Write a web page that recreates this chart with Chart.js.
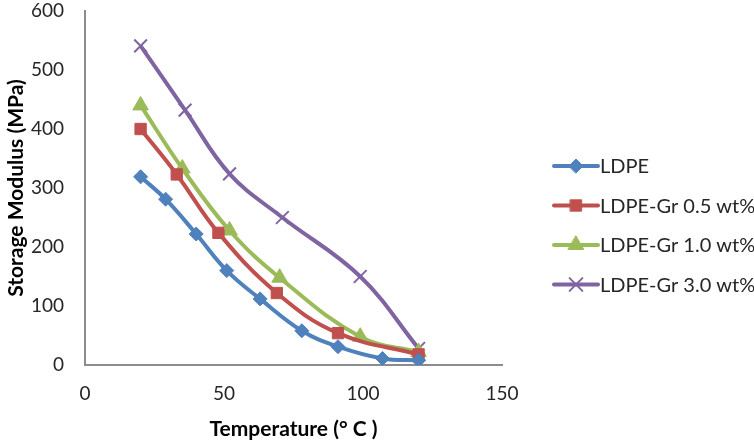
<!DOCTYPE html>
<html lang="en">
<head>
    <meta charset="UTF-8">
    <title>Storage Modulus</title>
    <style>
        html, body { margin: 0; padding: 0; background: #fff; }
        #wrap { width: 754px; height: 440px; }
    </style>
</head>
<body>
    <div id="wrap"><canvas id="modulusCanvas" width="754" height="440"></canvas></div>

    <script src="https://cdn.jsdelivr.net/npm/chart.js"></script>
    <script>
        // data (temperature in deg C, modulus in MPa)
        var seriesNames = ['LDPE', 'LDPE-Gr 0.5 wt%', 'LDPE-Gr 1.0 wt%', 'LDPE-Gr 3.0 wt%'];
        var ldpeTemp = [20, 29, 40, 51, 63, 78, 91, 107, 120];
        var ldpeMod = [319, 281, 222, 160, 112, 58, 31, 11, 8];
        var gr05Temp = [20, 33, 48, 69, 91, 120];
        var gr05Mod = [400, 323, 224, 122, 54, 18];
        var gr10Temp = [20, 35, 52, 70, 99, 120];
        var gr10Mod = [440, 333, 228, 148, 48, 22];
        var gr30Temp = [20, 36, 52, 71, 99, 120];
        var gr30Mod = [541, 432, 324, 250, 150, 28];
        var xTicks = [0, 50, 100, 150];
        var yTicks = [0, 100, 200, 300, 400, 500, 600];

        var fontFamily = 'Lato, "Liberation Sans", sans-serif';

        function pts(xs, ys) {
            return xs.map(function (x, i) { return { x: x, y: ys[i] }; });
        }

        function series(label, data, color, style, radius, fill) {
            return {
                label: label,
                data: data,
                borderColor: color,
                backgroundColor: fill ? color : 'transparent',
                pointBackgroundColor: color,
                pointBorderColor: color,
                pointBorderWidth: fill ? 1 : 2,
                pointStyle: style,
                pointRadius: radius,
                borderWidth: 4,
                tension: 0.4,
                showLine: true
            };
        }

        // legend drawn next to the plot, line with marker like the original
        var sideLegend = {
            id: 'sideLegend',
            afterDraw: function (chart) {
                var ctx = chart.ctx;
                chart.data.datasets.forEach(function (ds, i) {
                    var y = 166 + 39.5 * i;
                    ctx.save();
                    ctx.strokeStyle = ds.borderColor;
                    ctx.lineWidth = 4;
                    ctx.lineCap = 'round';
                    ctx.beginPath();
                    ctx.moveTo(554, y);
                    ctx.lineTo(598, y);
                    ctx.stroke();
                    ctx.fillStyle = ds.pointBackgroundColor;
                    ctx.strokeStyle = ds.pointBorderColor;
                    ctx.lineWidth = ds.pointBorderWidth;
                    Chart.helpers.drawPoint(ctx, {
                        pointStyle: ds.pointStyle,
                        radius: ds.pointRadius,
                        borderWidth: ds.pointBorderWidth
                    }, 576, y);
                    ctx.fillStyle = '#262626';
                    ctx.font = '20px ' + fontFamily;
                    ctx.textAlign = 'left';
                    ctx.textBaseline = 'middle';
                    ctx.fillText(ds.label, 600, y + 1);
                    ctx.restore();
                });
            }
        };

        var ctx = document.getElementById('modulusCanvas').getContext('2d');
        var modulusChart = new Chart(ctx, {
            type: 'scatter',
            data: {
                datasets: [
                    series(seriesNames[0], pts(ldpeTemp, ldpeMod), '#4F81BD', 'rectRot', 7, true),
                    series(seriesNames[1], pts(gr05Temp, gr05Mod), '#C0504D', 'rect', 8, true),
                    series(seriesNames[2], pts(gr10Temp, gr10Mod), '#9BBB59', 'triangle', 9, true),
                    series(seriesNames[3], pts(gr30Temp, gr30Mod), '#8064A2', 'crossRot', 9, false)
                ]
            },
            options: {
                responsive: false,
                animation: false,
                layout: { padding: { top: 8, right: 252, left: 0, bottom: 0 } },
                plugins: {
                    legend: { display: false },
                    tooltip: { enabled: false }
                },
                scales: {
                    x: {
                        type: 'linear',
                        min: 0, max: 150,
                        afterBuildTicks: function (s) { s.ticks = xTicks.map(function (v) { return { value: v }; }); },
                        afterFit: function (s) { s.height = 75; s.paddingLeft = 0; s.paddingRight = 0; },
                        grid: { display: false, drawTicks: false, tickLength: 0 },
                        border: { display: true, color: '#8c8c8c', width: 2 },
                        ticks: { padding: 17, color: '#262626', font: { family: fontFamily, size: 19 } },
                        title: {
                            display: true,
                            text: 'Temperature (° C )',
                            color: '#000',
                            font: { family: fontFamily, size: 21, weight: 'bold', lineHeight: 1 },
                            padding: { top: 0, bottom: 0 }
                        }
                    },
                    y: {
                        type: 'linear',
                        min: 0, max: 600,
                        afterBuildTicks: function (s) { s.ticks = yTicks.map(function (v) { return { value: v }; }); },
                        afterFit: function (s) { s.width = 85; s.paddingTop = 0; s.paddingBottom = 0; },
                        grid: { display: false, drawTicks: false, tickLength: 0 },
                        border: { display: true, color: '#8c8c8c', width: 2 },
                        ticks: { padding: 21, color: '#262626', font: { family: fontFamily, size: 19 } },
                        title: {
                            display: true,
                            text: 'Storage Modulus (MPa)',
                            color: '#000',
                            font: { family: fontFamily, size: 21, weight: 'bold', lineHeight: 1 },
                            padding: { top: 6, bottom: 0 }
                        }
                    }
                }
            },
            plugins: [sideLegend]
        });
    </script>
</body>
</html>
